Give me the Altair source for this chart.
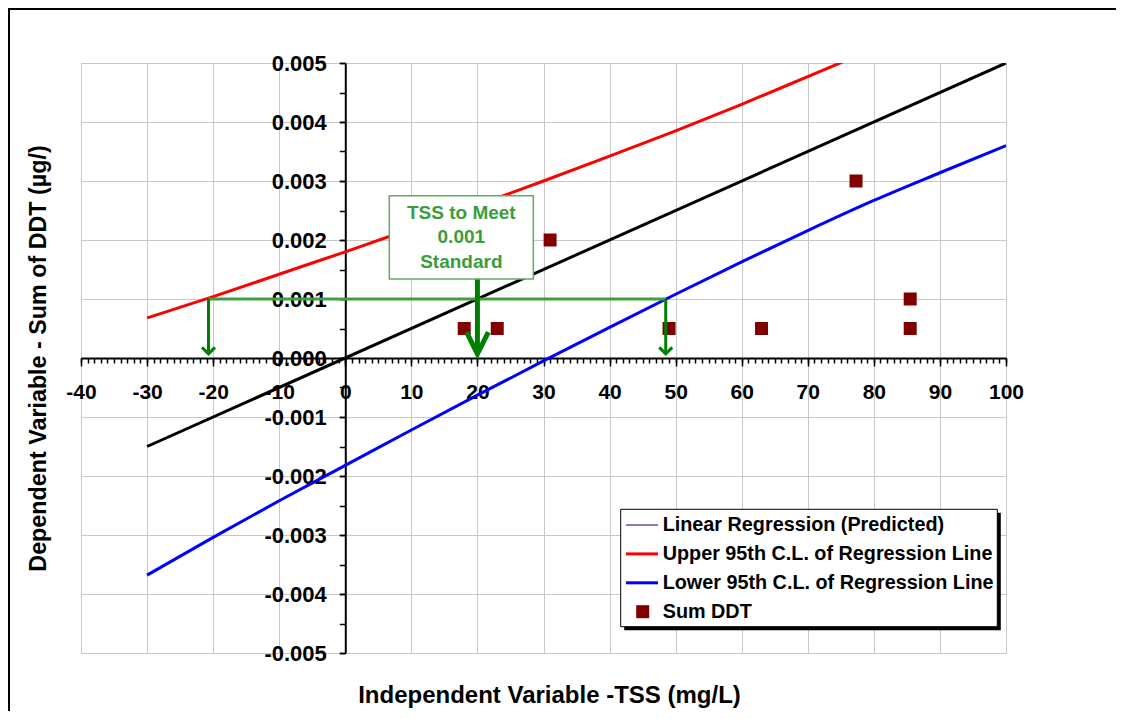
import altair as alt
import pandas as pd

# ---------------- data ----------------
# Linear regression (predicted)
pred_x = [-30, 100]
pred_y = [-0.0015, 0.005]

# Upper 95th C.L. of regression line
upper_x = [-30, -20, -10, 0, 10, 20, 30, 40, 50, 60, 70, 77]
upper_y = [0.00068, 0.00104, 0.00142, 0.00180, 0.00219, 0.00259, 0.00300,
           0.00342, 0.00385, 0.00430, 0.00477, 0.00510]

# Lower 95th C.L. of regression line
lower_x = [-30, -20, -10, 0, 10, 20, 30, 40, 50, 60, 70, 80, 90, 100]
lower_y = [-0.00368, -0.00304, -0.00242, -0.00182, -0.00122, -0.00063, -0.00005,
           0.00052, 0.00108, 0.00163, 0.00216, 0.00267, 0.00314, 0.00360]

# Sum DDT observations
ddt_x = [18, 23, 31, 49, 63, 77.3, 85.5, 85.5]
ddt_y = [0.0005, 0.0005, 0.002, 0.0005, 0.0005, 0.003, 0.001, 0.0005]

# Annotation: TSS to meet the 0.001 standard
standard = 0.001
tss_low = -20.7
tss_mid = 20
tss_high = 48.5
arrow_tip = 0.00007
box_x = [6.66, 28.46]
box_y = [0.002751, 0.001339]
box_text = ["TSS to Meet", "0.001", "Standard"]

# axis ticks
x_major = list(range(-40, 101, 10))
x_minor = list(range(-40, 101, 1))
y_major = [round(i * 0.001, 3) for i in range(-5, 6)]
y_minor = [round(i * 0.0005, 4) for i in range(-10, 11)]

legend_labels = ["Linear Regression (Predicted)", "Upper 95th C.L. of Regression Line",
                 "Lower 95th C.L. of Regression Line", "Sum DDT"]
legend_colors = ["#000080", "#ff0000", "#0000ff", "#800000"]
legend_widths = [1, 3, 3, 0]

# ---------------- layout ----------------
W, H = 925, 590
X_MIN, X_MAX = -40, 100
Y_MIN, Y_MAX = -0.005, 0.005
X0_PX = W * (0 - X_MIN) / (X_MAX - X_MIN)      # pixel of x = 0
Y0_PX = H * (Y_MAX - 0) / (Y_MAX - Y_MIN)      # pixel of y = 0
FONT = "Liberation Sans"
GRID = "#c8c8c8"
PAD = {"left": 73, "top": 55, "right": 110, "bottom": 58}

x_scale = alt.Scale(domain=[X_MIN, X_MAX], nice=False, zero=False)
y_scale = alt.Scale(domain=[Y_MIN, Y_MAX], nice=False, zero=False)

x_axis = alt.Axis(
    orient="bottom", values=x_major, offset=-(H - Y0_PX),
    domainColor="black", domainWidth=2,
    tickColor="black", tickWidth=1.5, tickSize=8,
    grid=True, gridColor=GRID, gridWidth=1,
    labelExpr="'' + datum.value",
    labelFont=FONT, labelFontSize=21, labelFontWeight="bold", labelColor="black",
    labelPadding=15, labelOverlap=False, labelFlush=False, labelBound=False,
    title="Independent Variable -TSS (mg/L)",
    titleFont=FONT, titleFontSize=24, titleFontWeight="bold", titleColor="black",
    titleX=468, titleY=H - Y0_PX + 42, titleBaseline="middle",
)
x_axis_minor = alt.Axis(
    orient="bottom", values=x_minor, offset=-(H - Y0_PX),
    domain=False, grid=False, labels=False, title=None,
    tickColor="black", tickWidth=1.5, tickSize=5,
)
y_axis = alt.Axis(
    orient="left", values=y_major, offset=-X0_PX,
    domainColor="black", domainWidth=2,
    tickColor="black", tickWidth=1.5, tickSize=6,
    grid=True, gridColor=GRID, gridWidth=1,
    labelExpr="(datum.value < 0 ? '-' : '') + format(abs(datum.value), '.3f')",
    labelFont=FONT, labelFontSize=22, labelFontWeight="bold", labelColor="black",
    labelPadding=13, labelOverlap=False, labelFlush=False, labelBound=False,
    title="Dependent Variable - Sum of DDT (µg/)",
    titleFont=FONT, titleFontSize=23.3, titleFontWeight="bold", titleColor="black",
    titleX=38 - 81 - X0_PX, titleY=295, titleBaseline="middle", titleAngle=-90,
)
y_axis_minor = alt.Axis(
    orient="left", values=y_minor, offset=-X0_PX,
    domain=False, grid=False, labels=False, title=None,
    tickColor="black", tickWidth=1.5, tickSize=6,
)

X = lambda f: alt.X(f, scale=x_scale, axis=None)
Y = lambda f: alt.Y(f, scale=y_scale, axis=None)

pred_df = pd.DataFrame({"x": pred_x, "y": pred_y})
upper_df = pd.DataFrame({"x": upper_x, "y": upper_y})
lower_df = pd.DataFrame({"x": lower_x, "y": lower_y})
ddt_df = pd.DataFrame({"x": ddt_x, "y": ddt_y})

pred_line = alt.Chart(pred_df).mark_line(color="black", strokeWidth=3, clip=True).encode(
    x=alt.X("x:Q", scale=x_scale, axis=x_axis),
    y=alt.Y("y:Q", scale=y_scale, axis=y_axis),
)
upper_line = alt.Chart(upper_df).mark_line(
    color="#ff0000", strokeWidth=3, clip=True, interpolate="monotone").encode(
    x=alt.X("x:Q", scale=x_scale, axis=x_axis_minor),
    y=alt.Y("y:Q", scale=y_scale, axis=y_axis_minor),
)
lower_line = alt.Chart(lower_df).mark_line(
    color="#0000ff", strokeWidth=3, clip=True, interpolate="monotone").encode(
    x=X("x:Q"), y=Y("y:Q"))
points = alt.Chart(ddt_df).mark_square(size=169, color="#800000", opacity=1).encode(
    x=X("x:Q"), y=Y("y:Q"))

# annotation
hline = alt.Chart(pd.DataFrame({"x": [tss_low], "x2": [tss_high], "y": [standard]})).mark_rule(
    color="#3f9f3f", strokeWidth=3).encode(x=X("x:Q"), x2="x2:Q", y=Y("y:Q"))
vlines = alt.Chart(pd.DataFrame({"x": [tss_low, tss_high], "y": [standard] * 2,
                                 "y2": [arrow_tip] * 2})).mark_rule(
    color="#008000", strokeWidth=3).encode(x=X("x:Q"), y=Y("y:Q"), y2="y2:Q")
heads = alt.Chart(pd.DataFrame({"x": [tss_low, tss_high], "y": [arrow_tip] * 2})).mark_point(
    shape="M-1,-1L0,0L1,-1", size=169, filled=False, strokeWidth=3, color="#008000",
    opacity=1).encode(x=X("x:Q"), y=Y("y:Q"))
shaft = alt.Chart(pd.DataFrame({"x": [tss_mid], "y": [box_y[1]], "y2": [arrow_tip]})).mark_rule(
    color="#008000", strokeWidth=5).encode(x=X("x:Q"), y=Y("y:Q"), y2="y2:Q")
big_head = alt.Chart(pd.DataFrame({"x": [tss_mid], "y": [arrow_tip]})).mark_point(
    shape="M-0.5,-1L0,0L0.5,-1", size=1900, filled=False, strokeWidth=5, color="#008000",
    opacity=1).encode(x=X("x:Q"), y=Y("y:Q"))
box = alt.Chart(pd.DataFrame({"x": [box_x[0]], "x2": [box_x[1]], "y": [box_y[0]],
                              "y2": [box_y[1]]})).mark_rect(
    fill="white", stroke="#5fae5f", strokeWidth=1.5).encode(
    x=X("x:Q"), x2="x2:Q", y=Y("y:Q"), y2="y2:Q")
box_label = alt.Chart(pd.DataFrame({"x": [sum(box_x) / 2], "y": [sum(box_y) / 2]})).mark_text(
    font=FONT, fontSize=19, fontWeight="bold", color="#3c9c3c", lineHeight=24.5,
    baseline="middle", align="center", dy=-24.5).encode(
    x=X("x:Q"), y=Y("y:Q"), text=alt.value(box_text))

# legend (drawn by hand to mimic the spreadsheet legend box)
one = alt.Data(values=[{}])
LX0, LX1, LY0, LY1 = 539.7, 916.3, 446.3, 563.7
legend_layers = [
    alt.Chart(one).mark_rect(fill="black").encode(
        x=alt.value(LX0 + 3.5), x2=alt.value(LX1 + 3.5), y=alt.value(LY0 + 3.5), y2=alt.value(LY1 + 3.5)),
    alt.Chart(one).mark_rect(fill="white", stroke="black", strokeWidth=1).encode(
        x=alt.value(LX0), x2=alt.value(LX1), y=alt.value(LY0), y2=alt.value(LY1)),
]
for i, (lab, col, sw) in enumerate(zip(legend_labels, legend_colors, legend_widths)):
    ly = 462 + i * 28.9
    if sw > 0:
        legend_layers.append(alt.Chart(one).mark_rule(color=col, strokeWidth=sw).encode(
            x=alt.value(545), x2=alt.value(577), y=alt.value(ly)))
    else:
        legend_layers.append(alt.Chart(one).mark_square(size=169, color=col, opacity=1).encode(
            x=alt.value(561.7), y=alt.value(ly)))
    legend_layers.append(alt.Chart(one).mark_text(
        font=FONT, fontSize=19.8, fontWeight="bold", color="black", align="left",
        baseline="middle").encode(x=alt.value(581.7), y=alt.value(ly), text=alt.value(lab)))

# outer chart-area frame (top and left edges; the rest runs off the page)
frame_top = alt.Chart(one).mark_rule(color="black", strokeWidth=2).encode(
    x=alt.value(-PAD["left"]), x2=alt.value(W + PAD["right"] + 20), y=alt.value(-PAD["top"] + 1))
frame_left = alt.Chart(one).mark_rule(color="black", strokeWidth=2).encode(
    x=alt.value(-PAD["left"] + 1), y=alt.value(-PAD["top"]), y2=alt.value(H + PAD["bottom"] + 20))
edge_cover = alt.Chart(one).mark_rule(color="white", strokeWidth=3).encode(
    x=alt.value(W + PAD["right"] - 1), y=alt.value(-PAD["top"] + 2.5),
    y2=alt.value(H + PAD["bottom"] + 20))

chart = alt.layer(
    pred_line, upper_line, lower_line, points,
    hline, vlines, heads, shaft, big_head, box, box_label,
    *legend_layers, frame_top, frame_left, edge_cover,
).resolve_axis(x="independent", y="independent").properties(
    width=W, height=H,
    padding=PAD,
    autosize=alt.AutoSizeParams(type="none"),
    background="white",
).configure_view(stroke="transparent")

chart.save("out.html", embed_options={"renderer": "svg", "actions": False})
